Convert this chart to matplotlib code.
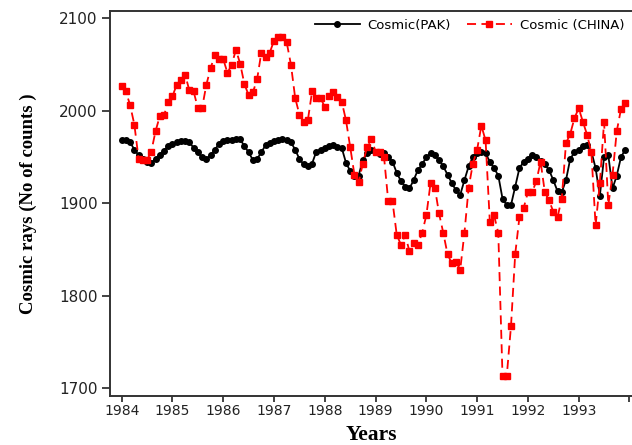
import matplotlib
matplotlib.use("Agg")
import matplotlib.pyplot as plt
import numpy as np

# monthly cosmic ray counts, Jan 1984 - Dec 1993
years = np.arange(1984, 1994)

pak = [
    1968, 1968, 1966, 1958, 1952, 1948, 1945, 1944, 1948, 1952, 1957, 1962,  # 1984
    1964, 1966, 1967, 1967, 1966, 1960, 1955, 1950, 1948, 1952, 1958, 1964,  # 1985
    1967, 1968, 1968, 1969, 1969, 1962, 1955, 1947, 1948, 1955, 1963, 1965,  # 1986
    1967, 1968, 1969, 1968, 1966, 1958, 1948, 1942, 1940, 1943, 1956, 1958,  # 1987
    1960, 1962, 1963, 1961, 1960, 1944, 1935, 1930, 1930, 1947, 1954, 1958,  # 1988
    1955, 1953, 1954, 1950, 1945, 1933, 1924, 1918, 1916, 1925, 1936, 1942,  # 1989
    1950, 1954, 1952, 1947, 1940, 1931, 1922, 1914, 1909, 1925, 1940, 1950,  # 1990
    1954, 1956, 1954, 1945, 1938, 1930, 1905, 1898, 1898, 1918, 1938, 1945,  # 1991
    1948, 1952, 1950, 1946, 1942, 1936, 1925, 1913, 1912, 1925, 1948, 1955,  # 1992
    1958, 1962, 1963, 1956, 1938, 1908, 1950, 1952, 1916, 1930, 1950, 1958,  # 1993
]

china = [
    2027, 2021, 2006, 1985, 1948, 1947, 1947, 1956, 1978, 1994, 1995, 2010,  # 1984
    2016, 2028, 2033, 2039, 2022, 2021, 2003, 2003, 2028, 2046, 2060, 2056,  # 1985
    2056, 2041, 2050, 2066, 2051, 2029, 2017, 2020, 2034, 2063, 2058, 2063,  # 1986
    2076, 2080, 2080, 2074, 2050, 2014, 1996, 1988, 1990, 2021, 2014, 2014,  # 1987
    2004, 2016, 2020, 2015, 2010, 1990, 1961, 1931, 1923, 1943, 1961, 1970,  # 1988
    1956, 1956, 1950, 1902, 1902, 1866, 1855, 1866, 1848, 1857, 1855, 1868,  # 1989
    1887, 1922, 1917, 1889, 1868, 1845, 1835, 1837, 1828, 1868, 1917, 1943,  # 1990
    1958, 1984, 1968, 1880, 1887, 1868, 1713, 1713, 1767, 1845, 1885, 1895,  # 1991
    1912, 1912, 1924, 1945, 1912, 1903, 1891, 1885, 1905, 1965, 1975, 1992,  # 1992
    2003, 1988, 1974, 1955, 1876, 1922, 1988, 1898, 1931, 1978, 2002, 2008,  # 1993
]

t = 1984 + np.arange(len(pak)) / 12.0

fig = plt.figure(figsize=(6.32, 4.45), dpi=100)
ax = fig.add_axes([110 / 632, 49 / 445, 522 / 632, 385 / 445])

ax.plot(t, pak, color="black", lw=1.3, marker="o", ms=4,
        label="Cosmic(PAK)")
ax.plot(t, china, color="red", lw=1.3, ls=(0, (5, 3)), marker="s", ms=4.8,
        label="Cosmic (CHINA)")

ax.set_xlim(1983.77, 1994.05)
ax.set_ylim(1691.5, 2108)
ax.set_xticks(list(years) + [1994])
ax.set_xticklabels([str(y) for y in years] + [""])
ax.set_yticks([1700, 1800, 1900, 2000, 2100])

ax.tick_params(axis="x", direction="out", length=4, width=1.2, labelsize=10,
               colors="#222", pad=2)
ax.tick_params(axis="y", direction="out", length=6, width=1.2, labelsize=11,
               colors="#222", pad=3)
for s in ["left", "bottom", "top"]:
    ax.spines[s].set_linewidth(1.4)
    ax.spines[s].set_color("#333")
ax.spines["right"].set_visible(False)

ax.set_xlabel("Years", family="Liberation Serif", weight="bold", fontsize=15.5,
              labelpad=5)
ax.set_ylabel("Cosmic rays (No of counts )", family="Liberation Serif",
              weight="bold", fontsize=13.5, labelpad=16)

ax.legend(loc="upper right", ncol=2, frameon=False, fontsize=9.5,
          handlelength=3.4, handletextpad=0.6, columnspacing=1.2,
          borderaxespad=0.2, bbox_to_anchor=(1.0, 1.0))

fig.savefig("out.png", dpi=100)
